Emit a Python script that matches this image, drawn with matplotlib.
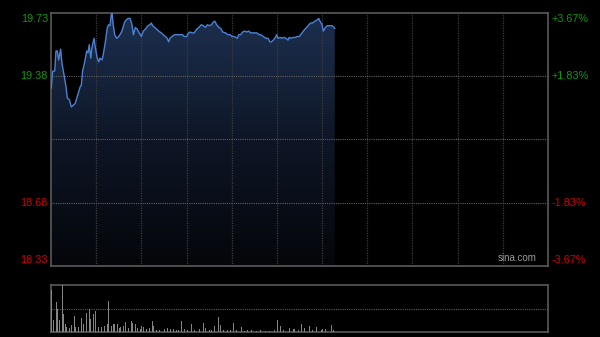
import numpy as np
import matplotlib
matplotlib.use('Agg')
import matplotlib.pyplot as plt
from matplotlib.colors import LinearSegmentedColormap

plt.rcParams['font.family'] = ['Liberation Sans', 'DejaVu Sans']

# Intraday price (minutes since open, HK session = 330 min)
minutes = [0.2, 1.1, 2.5, 3.3, 4.2, 5.1, 6.4, 7.3, 8.6, 10.0, 10.8, 12.2, 13.5, 14.8, 16.1,
           17.9, 19.3, 20.1, 21.0, 22.4, 23.7, 24.6, 25.4, 26.4, 27.2, 28.6, 29.4, 30.7,
           31.7, 32.5, 33.9, 34.7, 36.1, 37.4, 38.3, 39.2, 40.0, 40.5, 41.4, 42.3, 43.6,
           45.0, 45.8, 47.1, 48.9, 49.8, 51.1, 52.5, 53.8, 54.7, 56.0, 57.3, 58.6, 60.0,
           61.3, 62.6, 64.4, 65.7, 66.6, 67.5, 68.9, 70.2, 71.5, 73.2, 74.6, 75.9, 77.2,
           78.1, 79.0, 80.3, 82.1, 83.5, 84.8, 86.1, 87.4, 88.3, 90.1, 91.4, 92.3, 93.6,
           95.0, 96.7, 98.1, 99.8, 101.1, 102.5, 103.8, 105.1, 106.5, 107.8, 108.7, 110.0,
           111.4, 112.7, 114.0, 115.8, 117.5, 118.9, 120.2, 121.5, 122.8, 123.7, 124.7,
           126.0, 127.3, 128.6, 129.9, 131.3, 132.6, 134.3, 136.6, 138.3, 139.2, 141.0,
           142.8, 144.1, 145.4, 146.3, 147.6, 149.0, 149.9, 150.7, 152.1, 153.4, 154.7,
           156.0, 157.4, 158.2, 159.6, 160.9, 162.2, 163.6, 164.9, 165.8, 167.2, 168.5,
           169.8, 171.2, 172.5, 173.8, 175.2, 176.5, 177.8, 178.6, 180.0, 180.8, 182.2,
           183.5, 184.8, 186.6, 187.9, 188.4]
prices = [19.315, 19.407, 19.41, 19.52, 19.52, 19.47, 19.53, 19.45, 19.39, 19.32, 19.26,
          19.25, 19.21, 19.22, 19.23, 19.28, 19.32, 19.33, 19.41, 19.46, 19.52, 19.51,
          19.555, 19.48, 19.54, 19.59, 19.54, 19.48, 19.46, 19.48, 19.47, 19.50, 19.57,
          19.65, 19.665, 19.66, 19.72, 19.73, 19.66, 19.61, 19.59, 19.60, 19.61, 19.63,
          19.68, 19.69, 19.70, 19.70, 19.665, 19.61, 19.65, 19.64, 19.62, 19.60, 19.63,
          19.64, 19.66, 19.665, 19.675, 19.66, 19.65, 19.64, 19.63, 19.62, 19.61, 19.60,
          19.59, 19.57, 19.59, 19.60, 19.61, 19.61, 19.61, 19.61, 19.61, 19.60, 19.60,
          19.62, 19.625, 19.62, 19.62, 19.64, 19.65, 19.665, 19.66, 19.65, 19.665, 19.66,
          19.665, 19.68, 19.685, 19.665, 19.65, 19.645, 19.625, 19.62, 19.61, 19.61, 19.60,
          19.60, 19.595, 19.59, 19.61, 19.61, 19.625, 19.63, 19.625, 19.63, 19.62, 19.62,
          19.62, 19.61, 19.61, 19.60, 19.59, 19.59, 19.57, 19.57, 19.58, 19.595, 19.61,
          19.59, 19.595, 19.59, 19.595, 19.59, 19.58, 19.595, 19.59, 19.595, 19.595, 19.60,
          19.60, 19.61, 19.625, 19.64, 19.65, 19.665, 19.675, 19.675, 19.685, 19.69, 19.70,
          19.685, 19.665, 19.63, 19.65, 19.66, 19.66, 19.66, 19.65, 19.645]

# Volume (relative units)
vol_minutes = [0, 1, 3, 4, 5, 7, 8, 9, 10, 12, 13, 15, 16, 18, 20, 21, 23, 25, 26, 28, 29,
               31, 33, 35, 37, 38, 40, 41, 42, 44, 45, 46, 48, 49, 51, 53, 54, 56, 57, 59,
               60, 61, 63, 65, 67, 68, 70, 72, 75, 77, 79, 81, 83, 84, 86, 88, 90, 93, 95,
               98, 101, 102, 105, 106, 108, 111, 112, 114, 117, 119, 121, 123, 126, 128,
               130, 133, 136, 139, 142, 145, 148, 150, 152, 154, 158, 161, 164, 166, 168,
               171, 173, 176, 179, 180, 182, 186, 187]
volumes = [89, 26, 64, 50, 26, 100, 38, 18, 11, 8, 15, 34, 11, 11, 29, 18, 41, 50, 27, 39,
           45, 11, 11, 12, 16, 65, 12, 18, 18, 17, 8, 10, 12, 21, 8, 23, 20, 18, 8, 7, 13,
           10, 6, 8, 23, 12, 5, 4, 6, 8, 6, 6, 5, 4, 24, 6, 4, 18, 5, 6, 20, 8, 5, 5, 13,
           32, 15, 4, 5, 5, 20, 5, 10, 3, 5, 4, 3, 4, 2, 2, 4, 26, 13, 5, 8, 6, 5, 18, 8,
           12, 5, 10, 5, 7, 6, 15, 4]

prev_close = 19.03
price_ticks = [19.73, 19.38, 18.68, 18.33]
pct_labels = ['+3.67%', '+1.83%', '-1.83%', '-3.67%']
session_len = 330

fig = plt.figure(figsize=(6, 3.37), dpi=100)
fig.patch.set_facecolor('black')

ax = fig.add_axes([51 / 600, 1 - 266 / 337, 497 / 600, 253 / 337])
ax.set_facecolor('black')
ymin, ymax = price_ticks[-1], price_ticks[0]
ax.set_xlim(0, session_len)
ax.set_ylim(ymin, ymax)

# gradient fill under the price line
cmap = LinearSegmentedColormap.from_list('fill', ['#04060a', '#0e1626', '#1d3050'])
grad = np.linspace(0, 1, 256).reshape(-1, 1)
img = ax.imshow(grad, cmap=cmap, origin='lower', aspect='auto',
                extent=[0, session_len, ymin, ymax], zorder=1)
poly = ax.fill_between(minutes, prices, ymin, facecolor='none', edgecolor='none')
img.set_clip_path(poly.get_paths()[0], transform=ax.transData)

# grid
for m in range(30, session_len, 30):
    ax.axvline(m, color='#3c3c3c', lw=0.9, ls=(0, (1, 1)), zorder=2)
for p in [price_ticks[1], prev_close, price_ticks[2]]:
    ax.axhline(p, color='#606060', lw=0.8, ls=(0, (1, 1)), zorder=2)

ax.plot(minutes, prices, color='#4a82d4', lw=1.0, zorder=3)

for s in ax.spines.values():
    s.set_color('#5a5a5a')
    s.set_linewidth(1.2)
ax.set_xticks([])
ax.set_yticks([])

# axis labels
offsets = [-6, 0, 0, 6]
for p, lab, off in zip(price_ticks, pct_labels, offsets):
    col = '#0a9a0a' if p > prev_close else '#d00000'
    ypix = ax.transData.transform((0, p))[1] + off
    yfig = ypix / fig.bbox.height
    fig.text(48 / 600, yfig, f'{p:.2f}', color=col, fontsize=7.8, ha='right', va='center')
    fig.text(552 / 600, yfig, lab, color=col, fontsize=7.8, ha='left', va='center')

ax.text(0.978, 0.012, 'sina.com', transform=ax.transAxes, color='#9a9a9a',
        fontsize=7, ha='right', va='bottom', zorder=4)

# volume panel
vax = fig.add_axes([51 / 600, 1 - 332 / 337, 497 / 600, 47 / 337])
vax.set_facecolor('black')
vax.set_xlim(0, session_len)
vax.set_ylim(0, max(volumes))
vax.bar(vol_minutes, volumes, width=0.7, color='#858585', align='edge', zorder=3)
vax.axhline(max(volumes) / 2, color='#5a5a5a', lw=0.8, ls=(0, (1, 1)), zorder=2)
for s in vax.spines.values():
    s.set_color('#5a5a5a')
    s.set_linewidth(1.2)
vax.spines['top'].set_linestyle((0, (1, 1)))
vax.set_xticks([])
vax.set_yticks([])

fig.savefig('out.png', dpi=100, facecolor='black')
